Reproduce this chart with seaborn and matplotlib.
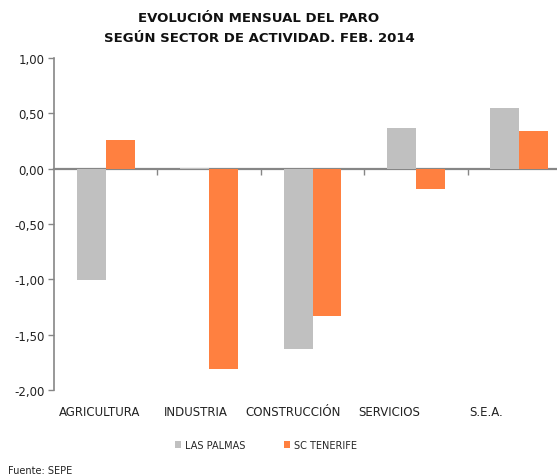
import pandas as pd
import numpy as np
import matplotlib.pyplot as plt
import matplotlib.transforms as mtransforms
import seaborn as sns
from matplotlib.ticker import FuncFormatter

# Data
sectores = ['AGRICULTURA', 'INDUSTRIA', 'CONSTRUCCIÓN', 'SERVICIOS', 'S.E.A.']
las_palmas = [-1.01, 0.01, -1.63, 0.37, 0.55]
sc_tenerife = [0.26, -1.81, -1.33, -0.18, 0.34]
provincias = ['LAS PALMAS', 'SC TENERIFE']
colores = ['#C0C0C0', '#FF8040']
y_ticks = [1.0, 0.5, 0.0, -0.5, -1.0, -1.5, -2.0]

data = pd.DataFrame({
    'sector': sectores * 2,
    'valor': las_palmas + sc_tenerife,
    'provincia': [provincias[0]] * len(sectores) + [provincias[1]] * len(sectores),
})

sns.set_style('white')
plt.rcParams['font.family'] = ['DejaVu Sans']

fig = plt.figure(figsize=(5.57, 4.77), dpi=100)
ax = fig.add_axes([54 / 557, 86 / 477, 517 / 557, 332 / 477])

sns.barplot(data=data, x='sector', y='valor', hue='provincia', order=sectores,
            hue_order=provincias, palette=colores, width=0.56, saturation=1,
            linewidth=0, ax=ax, legend=True)

axis_gray = '#868686'
ax.set_xlim(-0.5, len(sectores) - 0.5)
ax.set_ylim(-2.0, 1.0)
ax.set_yticks(y_ticks)
ax.yaxis.set_major_formatter(FuncFormatter(lambda v, p: f'{v:.2f}'.replace('.', ',')))
ax.tick_params(axis='y', direction='out', length=4, width=1, color=axis_gray,
               labelsize=8.5, pad=3, labelcolor='#222222', left=True)
ax.tick_params(axis='x', length=0, labelsize=8.5, pad=11, labelcolor='#222222')
ax.set_xlabel('')
ax.set_ylabel('')
for s in ['top', 'right', 'bottom']:
    ax.spines[s].set_visible(False)
ax.spines['left'].set_color(axis_gray)
ax.spines['left'].set_linewidth(1.2)

# the category labels in the original sit a little left of their bars
for i, lab in enumerate(ax.get_xticklabels()):
    shift = mtransforms.ScaledTranslation(-(6 + 6.8 * i) / 100, 0, fig.dpi_scale_trans)
    lab.set_transform(lab.get_transform() + shift)

# category axis crossing at zero, with boundary ticks
sec = ax.secondary_xaxis(0, transform=ax.transData)
sec.set_xticks(np.arange(len(sectores) - 1) + 0.5)
sec.set_xticklabels([])
sec.tick_params(direction='out', length=4, width=1, color=axis_gray)
sec.spines['bottom'].set_color(axis_gray)
sec.spines['bottom'].set_linewidth(1.6)

# legend below the chart
handles, labels = ax.get_legend_handles_labels()
ax.get_legend().remove()
fig.legend(handles, labels, loc='center', bbox_to_anchor=(266 / 557, 1 - 446 / 477),
           ncol=2, frameon=False, fontsize=7, handlelength=0.6, handleheight=0.6,
           handletextpad=0.4, columnspacing=4.0)

fig.text(259 / 557, 1 - 19 / 477, 'EVOLUCIÓN MENSUAL DEL PARO', ha='center', va='center',
         fontsize=9.5, fontweight='bold', color='#111111')
fig.text(259 / 557, 1 - 38 / 477, 'SEGÚN SECTOR DE ACTIVIDAD. FEB. 2014', ha='center',
         va='center', fontsize=9.5, fontweight='bold', color='#111111')
fig.text(8 / 557, 1 - 471 / 477, 'Fuente: SEPE', ha='left', va='center',
         fontsize=7, color='#222222')

fig.savefig('out.png', dpi=100)
